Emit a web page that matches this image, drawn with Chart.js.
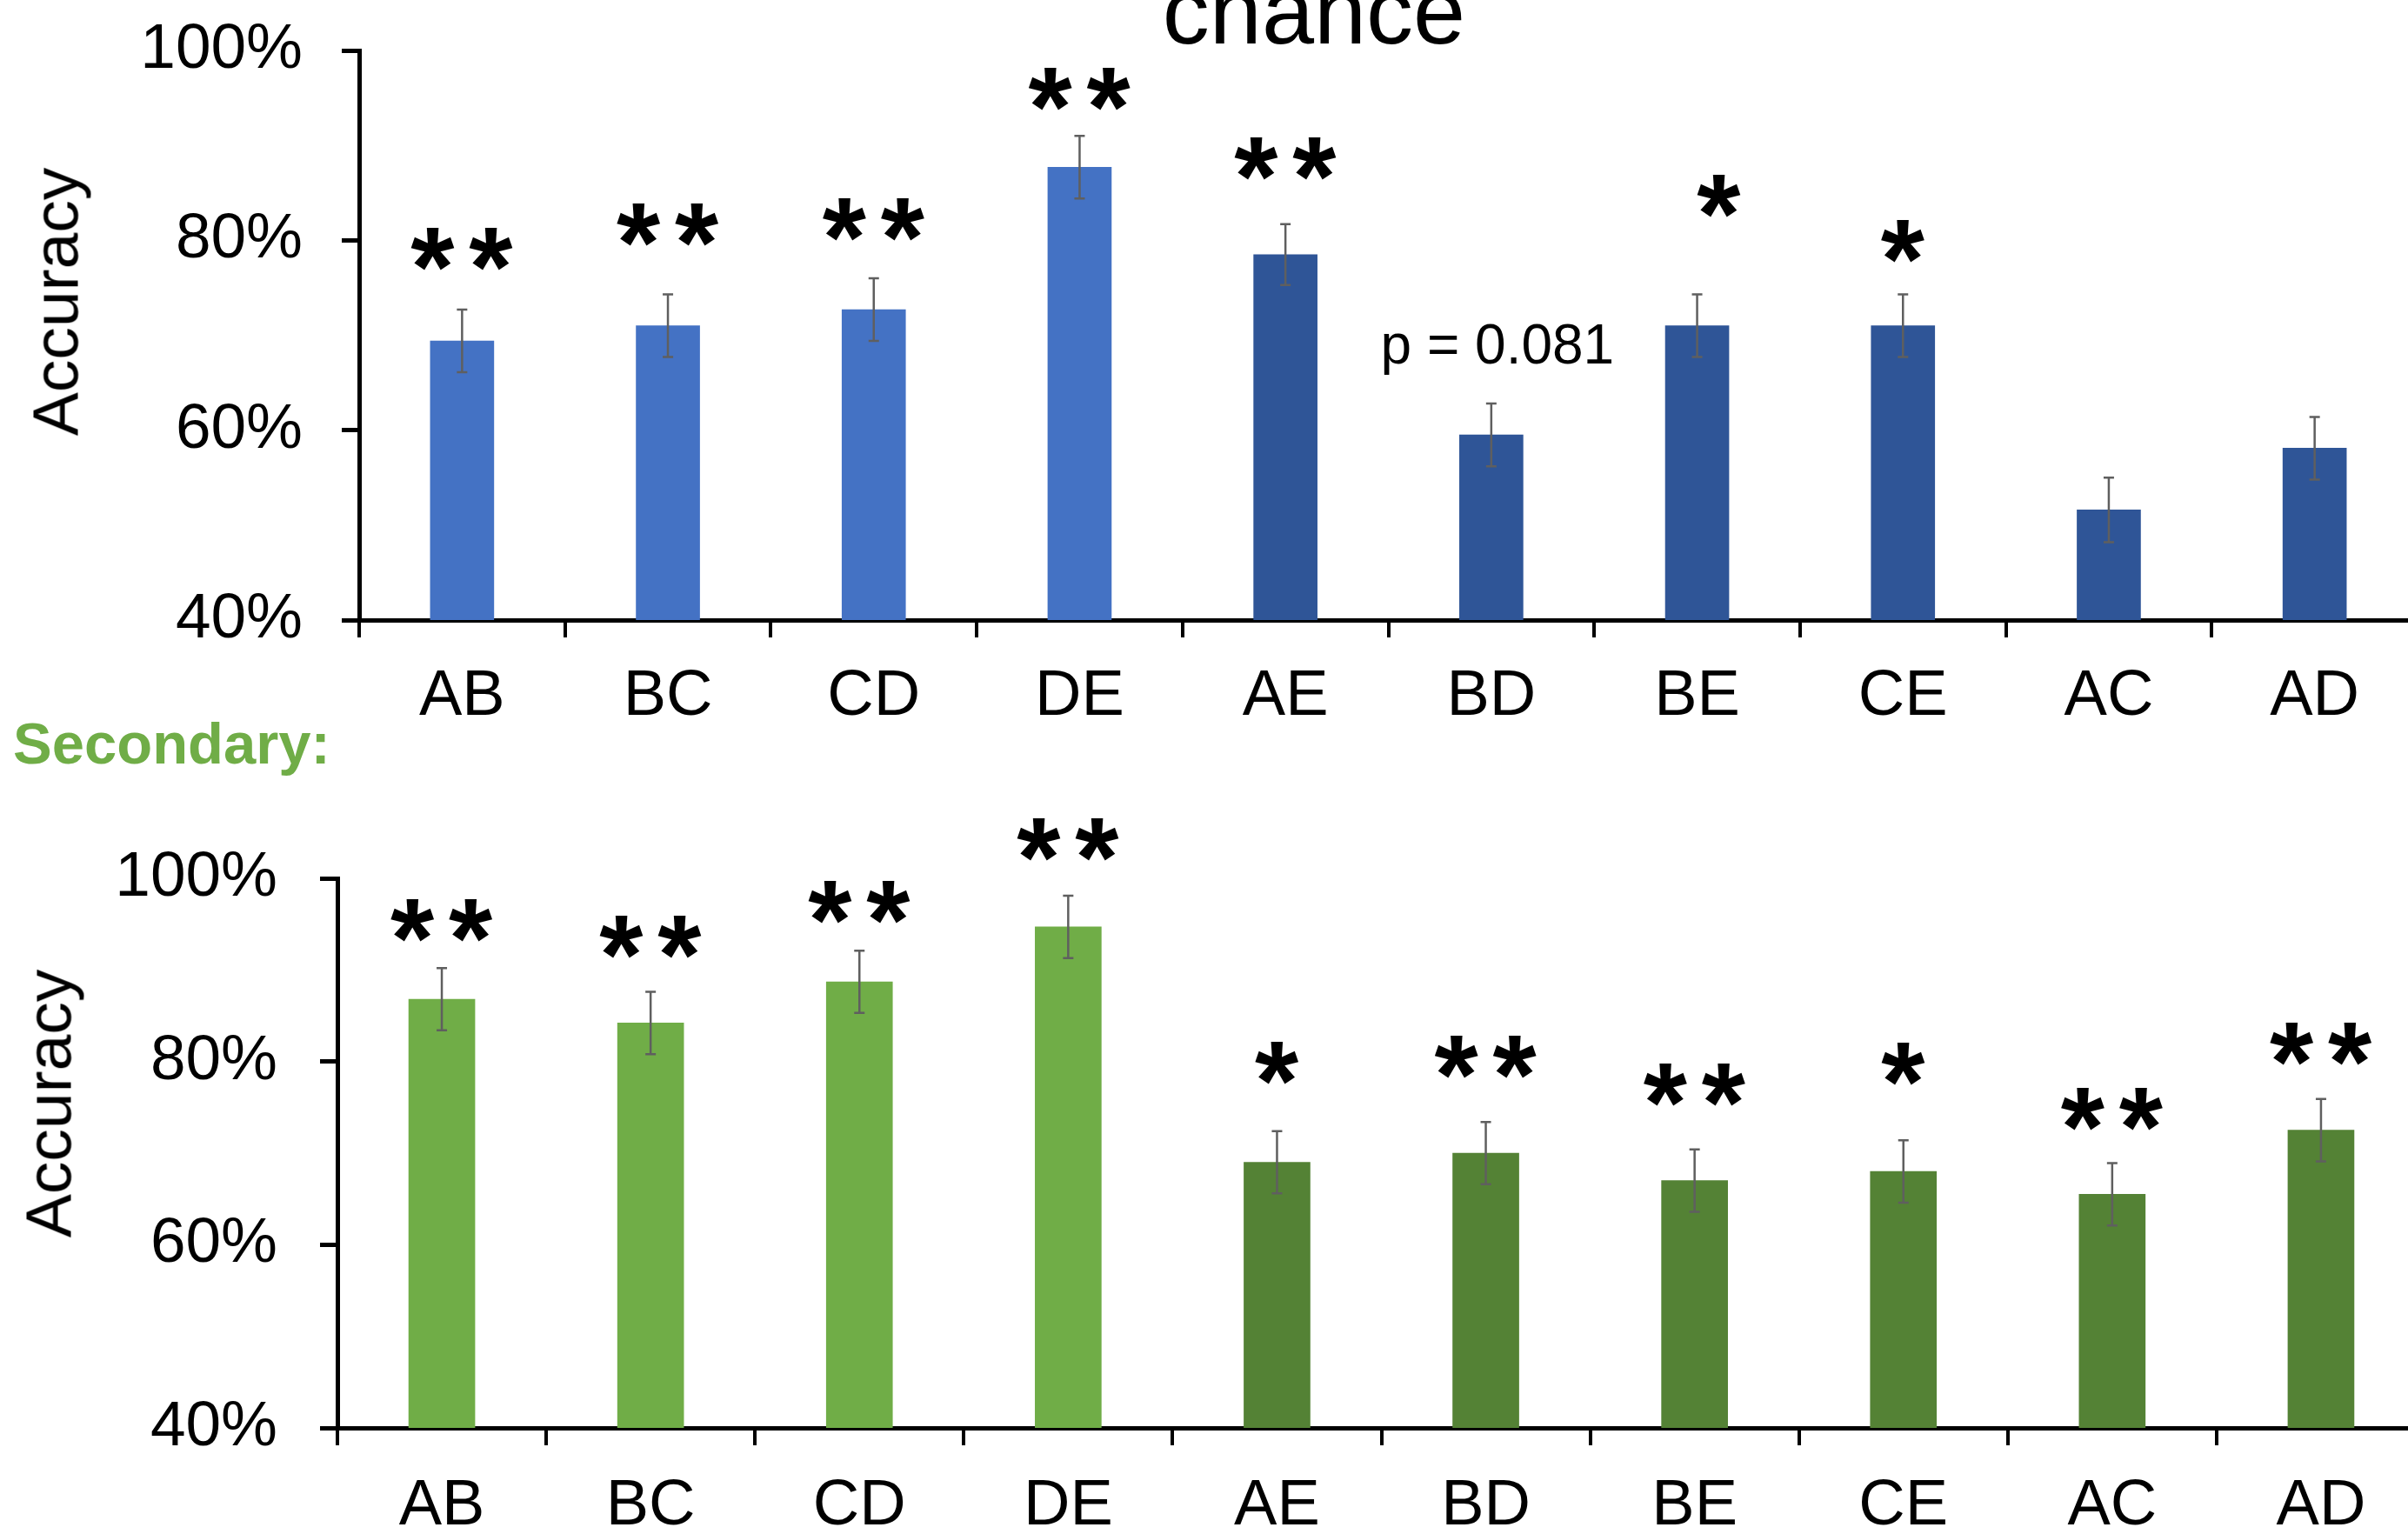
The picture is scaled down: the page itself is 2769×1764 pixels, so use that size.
<!DOCTYPE html>
<html>
<head>
<meta charset="utf-8">
<script src="https://cdn.jsdelivr.net/npm/chart.js@4.4.1/dist/chart.umd.min.js"></script>
<style>
html, body { margin:0; padding:0; background:#fff; width:2769px; height:1764px; overflow:hidden; position:relative;
  font-family:"Liberation Sans", Arial, sans-serif; }
canvas { position:absolute; left:0; }
#c1 { top:-40px; }
#c2 { top:900px; }
.lbl { position:absolute; white-space:nowrap; line-height:1; color:#000; }
</style>
</head>
<body>
<canvas id="c1" width="2780" height="900"></canvas>
<canvas id="c2" width="2789" height="864"></canvas>
<div class="lbl" style="font-size:108px; left:1511px; top:-41px; transform:translateX(-50%);">chance</div>
<div class="lbl" style="font-size:67px; font-weight:bold; color:#70AD47; left:15px; top:821px;">Secondary:</div>
<div class="lbl" style="font-size:75px; left:64px; top:347px; transform:translate(-50%,-50%) rotate(-90deg);">Accuracy</div>
<div class="lbl" style="font-size:75px; left:56px; top:1269px; transform:translate(-50%,-50%) rotate(-90deg);">Accuracy</div>
<script>
// ---- data ----
const categories = ['AB','BC','CD','DE','AE','BD','BE','CE','AC','AD'];
const yTicks = [40, 60, 80, 100];

const primaryAcc = [69.4, 71.0, 72.7, 87.7, 78.5, 59.5, 71.0, 71.0, 51.6, 58.1];
const primaryErr = [3.3, 3.3, 3.3, 3.3, 3.2, 3.3, 3.3, 3.3, 3.4, 3.3];
const primarySig = ['**', '**', '**', '**', '**', '', '*', '*', '', ''];
const primarySigAt = [79.1, 81.6, 82.2, 95.9, 88.6, null, 81.4, 79.9, null, null];
const primaryNote = ['', '', '', '', '', 'p = 0.081', '', '', '', ''];
const primaryNoteAt = [null, null, null, null, null, 68.6, null, null, null, null];

const secondaryAcc = [86.8, 84.2, 88.7, 94.7, 69.0, 70.0, 67.0, 68.0, 65.5, 72.5];
const secondaryErr = [3.4, 3.4, 3.4, 3.4, 3.4, 3.4, 3.4, 3.4, 3.4, 3.4];
const secondarySig = ['**', '**', '**', '**', '*', '**', '**', '*', '**', '**'];
const secondarySigAt = [95.4, 93.6, 97.4, 104.2, 79.8, 80.5, 77.5, 79.7, 74.8, 81.9];
const secondaryNote = ['', '', '', '', '', '', '', '', '', ''];
const secondaryNoteAt = [null, null, null, null, null, null, null, null, null, null];

// ---- drawing ----
const FAMILY = '"Liberation Sans", Arial, sans-serif';

function drawStars(ctx, text, cx, cy) {
  const starH = 49, gap = 67;
  ctx.font = 'bold 100px ' + FAMILY;
  const m = ctx.measureText('*');
  const h = m.actualBoundingBoxAscent + m.actualBoundingBoxDescent;
  const size = 100 * starH / h;
  ctx.font = 'bold ' + size + 'px ' + FAMILY;
  const m2 = ctx.measureText('*');
  ctx.textAlign = 'left';
  ctx.textBaseline = 'alphabetic';
  ctx.fillStyle = '#000';
  const n = text.length;
  for (let i = 0; i < n; i++) {
    const sx = cx + (i - (n - 1) / 2) * gap;
    const x0 = sx - (m2.actualBoundingBoxRight - m2.actualBoundingBoxLeft) / 2;
    const yb = cy + (m2.actualBoundingBoxAscent - m2.actualBoundingBoxDescent) / 2;
    ctx.fillText('*', x0, yb);
  }
}

function annotPlugin(acc, err, sig, sigAt, note, noteAt) {
  return {
    id: 'annot',
    afterDatasetsDraw(chart) {
      const ctx = chart.ctx;
      const y = chart.scales.y;
      const meta = chart.getDatasetMeta(0);
      ctx.save();
      ctx.strokeStyle = '#5f5f5f';
      ctx.lineWidth = 2.5;
      meta.data.forEach((bar, i) => {
        const cx = bar.x;
        const yt = y.getPixelForValue(acc[i] + err[i]);
        const yb = y.getPixelForValue(acc[i] - err[i]);
        ctx.beginPath();
        ctx.moveTo(cx, yt); ctx.lineTo(cx, yb);
        ctx.moveTo(cx - 6, yt); ctx.lineTo(cx + 6, yt);
        ctx.moveTo(cx - 6, yb); ctx.lineTo(cx + 6, yb);
        ctx.stroke();
        if (sig[i] && sigAt[i] != null) {
          drawStars(ctx, sig[i], cx, y.getPixelForValue(sigAt[i]));
        }
        if (note[i] && noteAt[i] != null) {
          ctx.font = '64px ' + FAMILY;
          ctx.fillStyle = '#000';
          ctx.textAlign = 'center';
          ctx.textBaseline = 'middle';
          ctx.fillText(note[i], cx + 7, y.getPixelForValue(noteAt[i]));
        }
      });
      ctx.restore();
    }
  };
}

function makeChart(id, acc, err, sig, sigAt, note, noteAt, colors, g) {
  return new Chart(document.getElementById(id), {
    type: 'bar',
    data: {
      labels: categories,
      datasets: [{
        data: acc,
        backgroundColor: acc.map((_, i) => i < 4 ? colors[0] : colors[1]),
        borderWidth: 0,
        barThickness: g.bar
      }]
    },
    options: {
      responsive: false,
      maintainAspectRatio: false,
      animation: false,
      devicePixelRatio: 1,
      layout: { padding: { top: g.top, left: 0, right: 0, bottom: 0 } },
      plugins: { legend: { display: false }, tooltip: { enabled: false }, title: { display: false } },
      scales: {
        x: {
          offset: true,
          grid: { display: true, drawOnChartArea: false, drawTicks: true, tickLength: 20, color: '#000', lineWidth: 4, offset: true },
          border: { display: true, color: '#000', width: 5 },
          ticks: { color: '#000', font: { family: FAMILY, size: 74 }, padding: g.xpad, maxRotation: 0, autoSkip: false },
          afterFit(s) { s.height = g.xh; }
        },
        y: {
          min: 40, max: 100,
          afterBuildTicks(s) { s.ticks = yTicks.map(v => ({ value: v })); },
          ticks: { color: '#000', font: { family: FAMILY, size: 73 }, padding: g.ypad, callback: v => v + '%' },
          grid: { display: true, drawOnChartArea: false, drawTicks: true, tickLength: 20, color: '#000', lineWidth: 5 },
          border: { display: true, color: '#000', width: 5 },
          afterFit(s) { s.width = g.yw; }
        }
      }
    },
    plugins: [annotPlugin(acc, err, sig, sigAt, note, noteAt)]
  });
}

// top canvas is placed at -40px: chart area 98..753 in canvas = 58..713 on page
makeChart('c1', primaryAcc, primaryErr, primarySig, primarySigAt, primaryNote, primaryNoteAt,
  ['#4472C4', '#2F5597'], { top: 98, xh: 147, yw: 413, bar: 73, xpad: 24, ypad: 45 });
makeChart('c2', secondaryAcc, secondaryErr, secondarySig, secondarySigAt, secondaryNote, secondaryNoteAt,
  ['#70AD47', '#548235'], { top: 110, xh: 122, yw: 388, bar: 76, xpad: 26, ypad: 49 });
</script>
</body>
</html>
